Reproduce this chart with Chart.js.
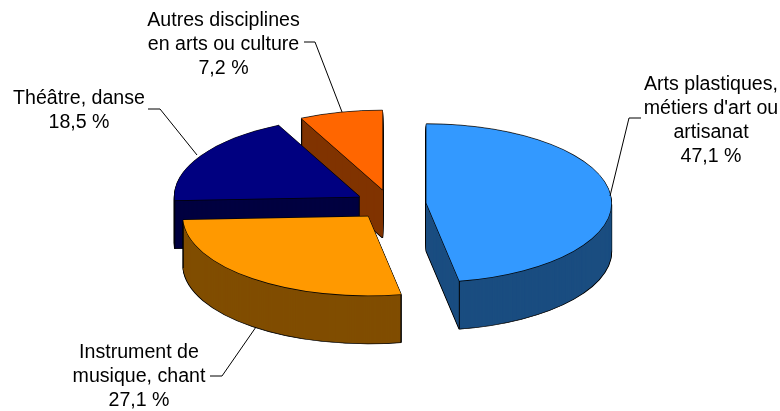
<!DOCTYPE html>
<html lang="fr">
<head>
<meta charset="utf-8">
<title>Disciplines</title>
<script src="https://cdn.jsdelivr.net/npm/chart.js@4"></script>
<style>
  html, body { margin: 0; padding: 0; background: #fff; }
  canvas { display: block; }
</style>
</head>
<body>
<canvas id="pieChart" width="780" height="411"></canvas>
<script>
const categories = ['Arts plastiques, métiers d\'art ou artisanat', 'Instrument de musique, chant', 'Théâtre, danse', 'Autres disciplines en arts ou culture'];
const shares = [47.1, 27.1, 18.5, 7.2];
const labelLines = [
  ['Arts plastiques,', 'métiers d\'art ou', 'artisanat'],
  ['Instrument de', 'musique, chant'],
  ['Théâtre, danse'],
  ['Autres disciplines', 'en arts ou culture']
];
const topColors = ['#3399FF', '#FF9900', '#000080', '#FF6600'];
const wallColors = ['#1A4D80', '#804D00', '#000040', '#803300'];

// 3D look: the pie is flattened, then each slice is moved out and stacked downwards
const squash = 0.427;
const depth = 48;
const explode = 36;
const paintOrder = [3, 2, 1, 0]; // back slices first

// text centre of the first line, and the leader line of each label
const labelBoxes = [
  { x: 711, y: 84.5 },
  { x: 139, y: 352.5 },
  { x: 79, y: 98.5 },
  { x: 223.5, y: 20.5 }
];
const leaders = [
  [[641, 118], [629, 118], [610, 196]],
  [[210, 376], [222, 376], [256, 327]],
  [[148, 109], [160, 109], [197, 155]],
  [[304, 42], [315, 42], [342, 112]]
];
const lineHeight = 24;

const drawWith = (arc, ctx, overrides) => {
  const saved = arc.options;
  arc.options = Object.assign({}, saved, overrides);
  arc.draw(ctx);
  arc.options = saved;
};

const pie3d = {
  id: 'pie3d',
  beforeDatasetDraw(chart, args) {
    const ctx = chart.ctx;
    const arcs = args.meta.data;
    const cy = arcs[0].y;
    const black = { backgroundColor: '#000', borderColor: '#000', borderWidth: 1 };

    paintOrder.forEach(i => {
      const arc = arcs[i];
      const mid = (arc.startAngle + arc.endAngle) / 2;
      const dx = Math.cos(mid) * explode;
      const dy = Math.sin(mid) * explode;

      const stamp = (shift, overrides) => {
        ctx.save();
        ctx.translate(0, cy + shift);
        ctx.scale(1, squash);
        ctx.translate(dx, dy - cy);
        drawWith(arc, ctx, overrides);
        ctx.restore();
      };

      // outline of the wall, then its fill over it
      for (let d = depth + 0.4; d >= 1; d--) {
        stamp(d, { backgroundColor: '#000', borderColor: '#000', borderWidth: 1.5 });
      }
      for (let d = depth; d >= 1; d--) {
        stamp(d, { backgroundColor: wallColors[i], borderWidth: 0 });
      }

      // vertical edges at the corners of the slice
      [arc.startAngle, arc.endAngle].forEach(a => {
        const px = arc.x + dx + Math.cos(a) * arc.outerRadius;
        const py = cy + (dy + Math.sin(a) * arc.outerRadius) * squash;
        ctx.beginPath();
        ctx.moveTo(px, py);
        ctx.lineTo(px, py + depth);
        ctx.strokeStyle = '#000';
        ctx.lineWidth = 1;
        ctx.stroke();
      });

      // top face: the squash thins flat edges, so its outline is stamped twice
      stamp(-0.35, black);
      stamp(0.35, black);
      stamp(0, { backgroundColor: topColors[i], borderWidth: 0 });
    });
    return false;
  },
  afterDraw(chart) {
    const ctx = chart.ctx;
    ctx.save();
    ctx.font = '19.6px "Liberation Sans", Arial, sans-serif';
    ctx.fillStyle = '#000';
    ctx.textAlign = 'center';
    ctx.textBaseline = 'middle';
    shares.forEach((v, i) => {
      const lines = labelLines[i].concat(v.toFixed(1).replace('.', ',') + ' %');
      lines.forEach((line, n) => {
        ctx.fillText(line, labelBoxes[i].x, labelBoxes[i].y + n * lineHeight);
      });
      ctx.beginPath();
      leaders[i].forEach((p, n) => {
        if (n === 0) ctx.moveTo(p[0], p[1]);
        else ctx.lineTo(p[0], p[1]);
      });
      ctx.strokeStyle = '#000';
      ctx.lineWidth = 1;
      ctx.stroke();
    });
    ctx.restore();
  }
};

new Chart(document.getElementById('pieChart'), {
  type: 'pie',
  data: {
    labels: categories,
    datasets: [{
      data: shares,
      backgroundColor: topColors,
      borderColor: '#000',
      borderWidth: 1
    }]
  },
  options: {
    responsive: false,
    animation: false,
    radius: 185,
    layout: { padding: { bottom: 2, left: 1 } },
    plugins: {
      legend: { display: false },
      tooltip: { enabled: false }
    }
  },
  plugins: [pie3d]
});
</script>
</body>
</html>
